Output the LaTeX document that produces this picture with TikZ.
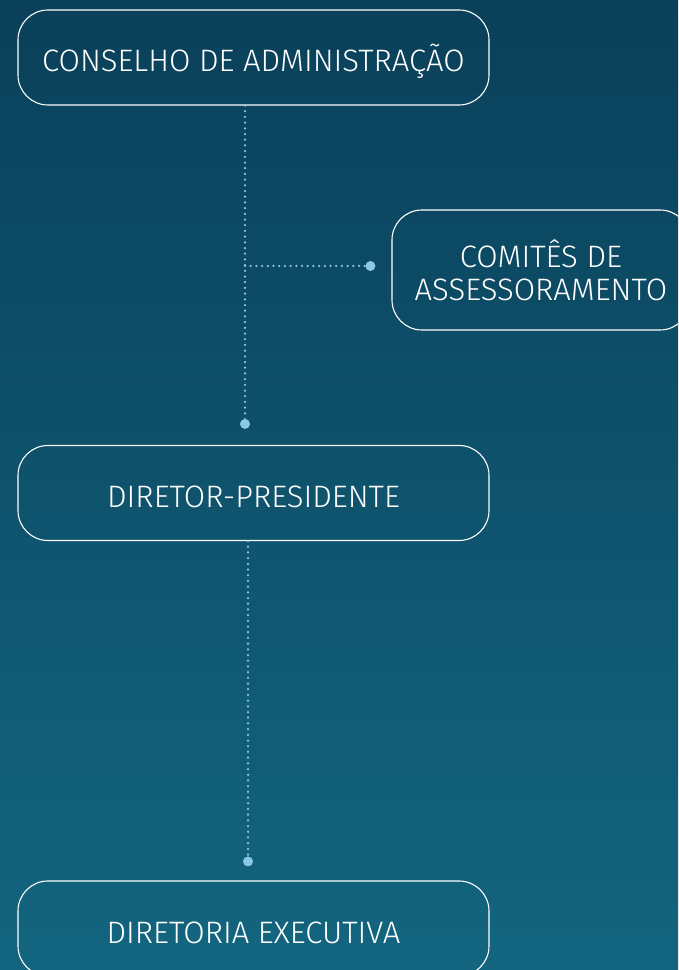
\documentclass[tikz,border=0pt]{standalone}
\usepackage{fontspec}
\setmainfont{Fira Sans Light}
\usetikzlibrary{calc}
\definecolor{bgtop}{HTML}{0A405A}
\definecolor{bgbot}{HTML}{13657F}
\definecolor{linkblue}{HTML}{8CC8E6}
\tikzset{
	orgbox/.style={draw=white,line width=1.1pt,rounded corners=30pt,text=white,
		minimum width=471pt,minimum height=95pt,font=\fontsize{31}{32}\selectfont,
		text height=29pt,text depth=0pt},
	link/.style={draw=linkblue,line width=2.5pt,line cap=round,dash pattern=on 0pt off 5.7pt},
	enddot/.style={fill=linkblue}
}
\begin{document}
\begin{tikzpicture}[x=1pt,y=1pt]
		% background
		\shade[top color=bgtop,bottom color=bgbot] (0,0) rectangle (678,970);
		\clip (0,0) rectangle (678,970);
		
		\node[orgbox] (cons) at (253.5,912.5) {CONSELHO DE ADMINISTRAÇÃO};
		\node[orgbox,minimum width=298pt,minimum height=120pt,align=center,
			text height=,text depth=,yshift=-5.5pt] (comite) at (541,705.5)
			{COMITÊS DE\\[1pt]ASSESSORAMENTO};
		\node[orgbox] (pres) at (253.5,477) {DIRETOR-PRESIDENTE};
		\node[orgbox] (exec) at (253.5,41.5) {DIRETORIA EXECUTIVA};
		
		% end points of the links
		\coordinate (dpres) at ($(pres.north)+(-8.5,21)$);
		\coordinate (dcom) at ($(comite.west)+(-21,4)$);
		\coordinate (dexec) at ($(exec.north)+(-5.5,19)$);
		
		\draw[link] (cons.south -| dpres) -- (dpres);
		\draw[link] (dpres |- dcom) -- (dcom);
		\draw[link] (pres.south -| dexec) -- (dexec);
		\foreach \d in {dpres,dcom,dexec}
			\fill[enddot] (\d) circle[radius=5pt];
		
		\useasboundingbox (0,0) rectangle (678,970);
	\end{tikzpicture}
\end{document}
